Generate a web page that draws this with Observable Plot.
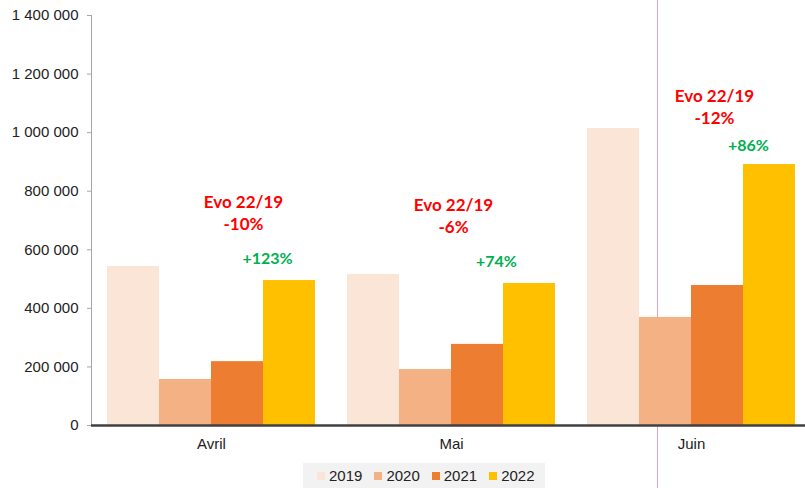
<!DOCTYPE html>
<html><head><meta charset="utf-8">
<script src="https://cdn.jsdelivr.net/npm/d3@7"></script>
<script src="https://cdn.jsdelivr.net/npm/@observablehq/plot@0.6"></script>
<style>
html,body{margin:0;padding:0;background:#fff;overflow:hidden;}
#wrap{position:relative;width:805px;height:488px;overflow:hidden;font-family:"Liberation Sans",Arial,sans-serif;}
#vline{position:absolute;left:657px;top:0;width:1px;height:488px;background:#f0a0bf;}
#chart{position:absolute;left:0;top:0;}
#chart svg{max-width:none;background:transparent;}
#legend{position:absolute;left:303px;top:463px;width:242px;height:25px;background:#f2f2f2;display:flex;align-items:center;padding-left:14px;box-sizing:border-box;gap:12px;font-size:15px;color:#222;}
.item{display:flex;align-items:center;gap:4px;}
.sw{width:8px;height:8px;}
</style></head><body>
<div id="wrap"><div id="vline"></div><div id="chart"></div><div id="legend"></div></div>
<script>
const months = ["Avril", "Mai", "Juin"];
const years = ["2019", "2020", "2021", "2022"];
const colors = ["#fbe5d6", "#f4b183", "#ed7d31", "#ffc000"];
const v2019 = [543000, 516000, 1014000];
const v2020 = [157000, 191000, 369000];
const v2021 = [218000, 277000, 478000];
const v2022 = [495000, 485000, 891000];
const evoLabels = ["Evo 22/19\n-10%", "Evo 22/19\n-6%", "Evo 22/19\n-12%"];
const growthLabels = ["+123%", "+74%", "+86%"];
const yTicks = [0, 200000, 400000, 600000, 800000, 1000000, 1200000, 1400000];

const series = {"2019": v2019, "2020": v2020, "2021": v2021, "2022": v2022};
const table = [];
months.forEach((m, i) => years.forEach(y => table.push({month: m, year: y, value: series[y][i]})));

const fmt = d3.formatLocale({thousands: "\u00a0", grouping: [3], decimal: ","}).format(",");

// layout offsets (pixels) for annotations, per month
const redOffsets = [{dx: 6, dy: -68.5}, {dx: -24, dy: -68.5}, {dx: -3, dy: -59}];
const greenOffsets = [{dx: -22, dy: -22}, {dx: -33, dy: -22}, {dx: -21, dy: -19}];

const textMarks = [];
months.forEach((m, i) => {
  textMarks.push(Plot.text([{month: m, year: "2021", value: v2022[i], label: evoLabels[i]}], {
    fx: "month", x: "year", y: "value", text: "label",
    dx: redOffsets[i].dx, dy: redOffsets[i].dy,
    fill: "#ff0000", fontWeight: "bold", fontSize: 17, fontFamily: "Lato",
    lineHeight: 1.3, lineAnchor: "middle"
  }));
  textMarks.push(Plot.text([{month: m, year: "2022", value: v2022[i], label: growthLabels[i]}], {
    fx: "month", x: "year", y: "value", text: "label",
    dx: greenOffsets[i].dx, dy: greenOffsets[i].dy,
    fill: "#00b050", fontWeight: "bold", fontSize: 16, fontFamily: "Lato",
    lineAnchor: "middle"
  }));
});

const plot = Plot.plot({
  width: 812, height: 462,
  marginLeft: 90, marginRight: 0, marginTop: 15, marginBottom: 37,
  style: {fontFamily: "'Liberation Sans', Arial, sans-serif", fontSize: "15px", color: "#222", background: "transparent"},
  fx: {domain: months, padding: 0, label: null},
  x: {domain: years, padding: 0, insetLeft: 14.5, insetRight: 14.5, axis: null},
  y: {domain: [0, 1400000], label: null},
  color: {domain: years, range: colors},
  marks: [
    Plot.frame({anchor: "left", facetAnchor: "left", stroke: "#a6a6a6"}),
    Plot.barY(table, {fx: "month", x: "year", y: "value", fill: "year"}),
    Plot.ruleY([0], {stroke: "#404040", strokeWidth: 2.5}),
    Plot.axisY({ticks: yTicks, tickFormat: fmt, tickSize: 4, tickPadding: 9, stroke: "#a6a6a6", fill: "#222", label: null}),
    Plot.axisFx({anchor: "bottom", tickSize: 0, tickPadding: 13, fontSize: 15, fill: "#222", label: null}),
    ...textMarks
  ]
});
document.getElementById("chart").appendChild(plot);

const legend = document.getElementById("legend");
years.forEach((y, i) => {
  const it = document.createElement("div");
  it.className = "item";
  const sw = document.createElement("div");
  sw.className = "sw";
  sw.style.background = colors[i];
  const t = document.createElement("span");
  t.textContent = y;
  it.appendChild(sw); it.appendChild(t);
  legend.appendChild(it);
});
</script>
</body></html>
